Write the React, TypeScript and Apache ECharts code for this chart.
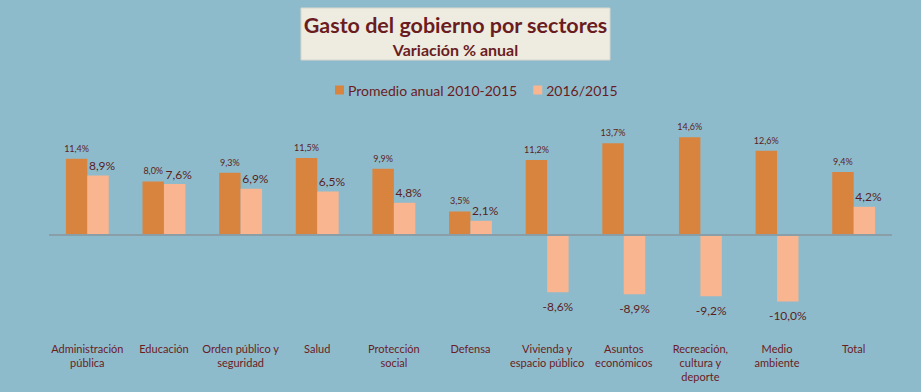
import React, { useEffect, useRef } from "react";
import * as echarts from "echarts";

const categories = [
  "Administración\npública",
  "Educación",
  "Orden público y\nseguridad",
  "Salud",
  "Protección\nsocial",
  "Defensa",
  "Vivienda y\nespacio público",
  "Asuntos\neconómicos",
  "Recreación,\ncultura y\ndeporte",
  "Medio\nambiente",
  "Total",
];
const promedio = [11.4, 8.0, 9.3, 11.5, 9.9, 3.5, 11.2, 13.7, 14.6, 12.6, 9.4];
const variacion = [8.9, 7.6, 6.9, 6.5, 4.8, 2.1, -8.6, -8.9, -9.2, -10.0, 4.2];
const seriesNames = ["Promedio anual 2010-2015", "2016/2015"];
const titleText = "Gasto del gobierno por sectores";
const subtitleText = "Variación % anual";

const FONT = "Lato, 'Open Sans', sans-serif";
const DARK = "#6A1C1F";

const fmt = (v: number) => v.toFixed(1).replace(".", ",") + "%";

export default function App() {
  const ref = useRef<HTMLDivElement>(null);
  useEffect(() => {
    if (!ref.current) return;
    const chart = echarts.init(ref.current, undefined, { renderer: "svg" });
    chart.setOption({
      animation: false,
      backgroundColor: "#8EBBCC",
      textStyle: { fontFamily: FONT },
      graphic: [
        {
          type: "rect",
          shape: { x: 301, y: 8, width: 309, height: 52 },
          style: { fill: "#EEECE1", stroke: "#D8D6CC", lineWidth: 1 },
        },
        {
          type: "text",
          x: 455.5,
          y: 25,
          style: {
            text: titleText,
            fontFamily: FONT,
            fontSize: 21.5,
            fontWeight: "bold",
            fill: DARK,
            align: "center",
            verticalAlign: "middle",
          },
        },
        {
          type: "text",
          x: 455.5,
          y: 49,
          style: {
            text: subtitleText,
            fontFamily: FONT,
            fontSize: 16,
            fontWeight: "bold",
            fill: DARK,
            align: "center",
            verticalAlign: "middle",
          },
        },
      ],
      legend: {
        top: 78,
        left: 330,
        itemWidth: 9,
        itemHeight: 9,
        itemGap: 16,
        icon: "rect",
        textStyle: { fontFamily: FONT, fontSize: 14, color: DARK, padding: [0, 0, 0, -1] },
        data: seriesNames,
      },
      grid: { left: 49, right: 29, top: 128, bottom: 57 },
      xAxis: {
        type: "category",
        data: categories,
        axisLine: { show: false, onZero: false },
        axisTick: { show: false },
        axisLabel: {
          interval: 0,
          margin: 6,
          fontFamily: FONT,
          fontSize: 11,
          lineHeight: 14,
          color: DARK,
        },
      },
      yAxis: {
        type: "value",
        min: -15,
        max: 16,
        show: false,
        splitLine: { show: false },
      },
      series: [
        {
          name: seriesNames[0],
          type: "bar",
          data: promedio,
          barWidth: "28%",
          barGap: "0%",
          itemStyle: { color: "#D9843E" },
          label: {
            show: true,
            position: "top",
            distance: 6,
            fontFamily: FONT,
            fontSize: 9,
            color: "#5A1E22",
            formatter: (p: any) => fmt(p.value),
          },
          markLine: {
            silent: true,
            symbol: "none",
            label: { show: false },
            lineStyle: { color: "#8A9EA7", width: 2, type: "solid" },
            data: [{ yAxis: 0 }],
          },
        },
        {
          name: seriesNames[1],
          type: "bar",
          barWidth: "28%",
          data: variacion.map((v) => ({
            value: v,
            label: {
              position: v < 0 ? "bottom" : "top",
              distance: v < 0 ? 8 : 4,
              offset: v < 0 ? [0, 0] : [4, 0],
            },
          })),
          itemStyle: { color: "#F8B58F" },
          label: {
            show: true,
            fontFamily: FONT,
            fontSize: 12,
            color: "#5A1E22",
            formatter: (p: any) => fmt(p.value),
          },
        },
      ],
    });
    return () => chart.dispose();
  }, []);
  return (
    <div
      ref={ref}
      style={{ position: "absolute", left: 0, top: 0, width: 921, height: 392 }}
    />
  );
}
